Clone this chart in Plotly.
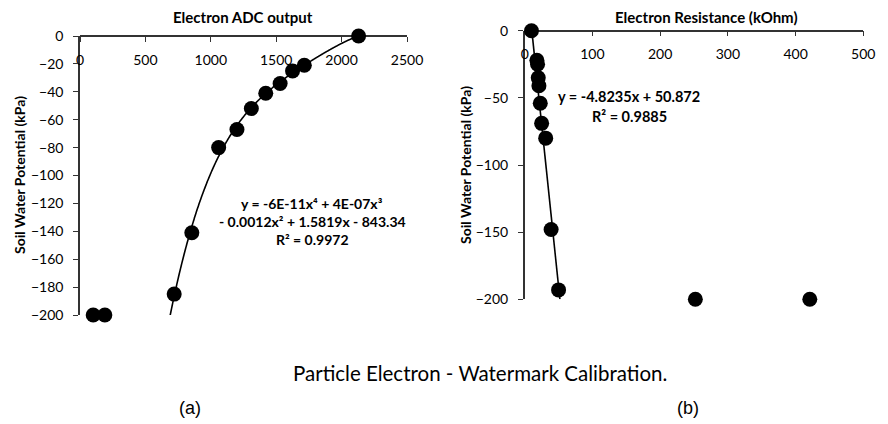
import numpy as np
import plotly.graph_objects as go

# ---- data: panel (a) ADC output vs soil water potential ----
adc_x = [2130, 1715, 1625, 1530, 1420, 1310, 1200, 1060, 855, 720, 101, 190]
adc_y = [0, -21, -25, -34, -41, -52, -67, -80, -141, -185, -200, -200]
adc_fit_count = 10          # first 10 points used for the 4th-order trendline
adc_trend_range = [650, 2130]
adc_eq = ["y = -6E-11x⁴ + 4E-07x³", "- 0.0012x² + 1.5819x - 843.34", "R² = 0.9972"]

# ---- data: panel (b) resistance vs soil water potential ----
res_x = [10, 18, 19, 20, 21, 23, 25, 31, 39, 50, 252, 421]
res_y = [0, -22, -25, -35, -41, -54, -69, -80, -148, -193, -200, -200]
res_slope, res_intercept = -4.8235, 50.872
res_trend_range = [10, 52]
res_eq = ["y = -4.8235x + 50.872", "R² = 0.9885"]

adc_ticks = [0, 500, 1000, 1500, 2000, 2500]
res_ticks = [0, 100, 200, 300, 400, 500]

FONT = "Lato"
W, H = 888, 424

fig = go.Figure()

# polynomial trendline (a)
coef = np.polyfit(adc_x[:adc_fit_count], adc_y[:adc_fit_count], 4)
tx = np.linspace(adc_trend_range[0], adc_trend_range[1], 300)
fig.add_trace(go.Scatter(x=tx, y=np.polyval(coef, tx), mode="lines",
                         line=dict(color="black", width=1.6, shape="spline"), xaxis="x", yaxis="y",
                         hoverinfo="skip", showlegend=False))
fig.add_trace(go.Scatter(x=adc_x, y=adc_y, mode="markers", cliponaxis=False,
                         marker=dict(color="black", size=15), xaxis="x", yaxis="y",
                         showlegend=False))

# linear trendline (b)
rx = np.linspace(res_trend_range[0], res_trend_range[1], 50)
fig.add_trace(go.Scatter(x=rx, y=res_slope * rx + res_intercept, mode="lines",
                         line=dict(color="black", width=1.6), xaxis="x2", yaxis="y2",
                         hoverinfo="skip", showlegend=False))
fig.add_trace(go.Scatter(x=res_x, y=res_y, mode="markers", cliponaxis=False,
                         marker=dict(color="black", size=15), xaxis="x2", yaxis="y2",
                         showlegend=False))

def px_x(p):
    return p / W

def px_y(p):
    return 1 - p / H

ax_common = dict(showline=True, linecolor="#333", linewidth=1.5, ticks="outside",
                 ticklen=5, tickcolor="#333", tickwidth=1.2, showgrid=False,
                 zeroline=False, layer="below traces", automargin=False,
                 tickfont=dict(family=FONT, size=14, color="black"))

fig.update_layout(
    width=W, height=H, margin=dict(l=0, r=0, t=0, b=0, pad=0),
    paper_bgcolor="white", plot_bgcolor="white",
    xaxis=dict(domain=[px_x(80), px_x(407)], range=[0, 2500], tickvals=adc_ticks,
               anchor="free", position=px_y(36), side="bottom", ticklabelstandoff=6, **ax_common),
    yaxis=dict(domain=[px_y(315), px_y(36)], range=[-200, 0], dtick=20,
               anchor="x", ticklabelstandoff=7, **ax_common),
    xaxis2=dict(domain=[px_x(524.7), px_x(863.3)], range=[0, 500], tickvals=res_ticks,
                anchor="free", position=px_y(30.7), side="bottom", ticklabelstandoff=6, **ax_common),
    yaxis2=dict(domain=[px_y(299.3), px_y(30.7)], range=[-200, 0], dtick=50,
                anchor="x2", ticklabelstandoff=7, **ax_common),
)

ann = []
def text(x, y, s, size=13, bold=True, family=FONT, rot=0):
    ann.append(dict(x=px_x(x), y=px_y(y), xref="paper", yref="paper", text=(f"<b>{s}</b>" if bold else s),
                    showarrow=False, textangle=rot, xanchor="center", yanchor="middle",
                    font=dict(family=family, size=size, color="black")))

text(243, 17, "Electron ADC output", size=15)
text(706, 17, "Electron Resistance (kOhm)", size=15)
text(19, 175, "Soil Water Potential (kPa)", size=14, rot=-90)
text(466, 165, "Soil Water Potential (kPa)", size=14, rot=-90)
for i, s in enumerate(adc_eq):
    text(312, 203 + 18.3 * i, s, size=14)
for i, s in enumerate(res_eq):
    text(629, 97 + 20 * i, s, size=14.5)
text(480, 373, "Particle Electron - Watermark Calibration.", size=20.5, bold=False)
text(190, 408, "(a)", size=18, bold=False, family="Liberation Sans")
text(688, 408, "(b)", size=18, bold=False, family="Liberation Sans")

fig.update_layout(annotations=ann)
fig.write_html("out.html", config={"displayModeBar": False},
               post_script="document.body.style.margin='0';")
